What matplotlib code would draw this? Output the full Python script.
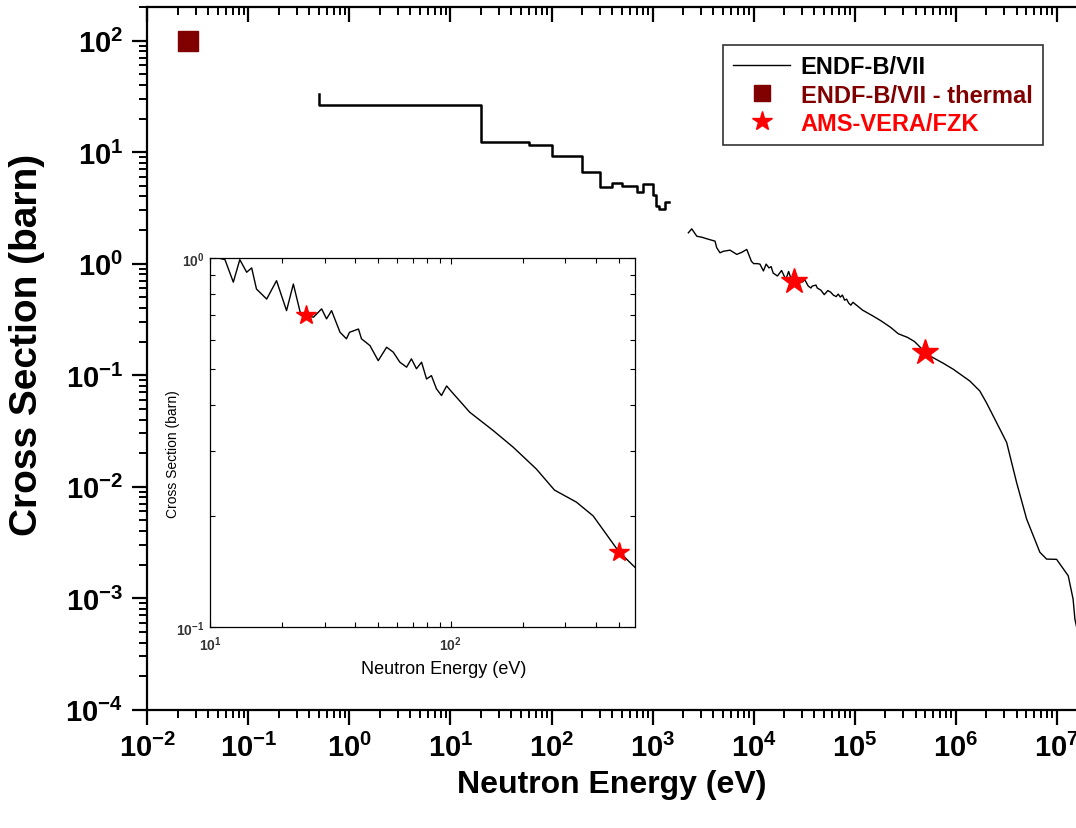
import numpy as np
import matplotlib
matplotlib.use("Agg")
import matplotlib.pyplot as plt
from matplotlib.ticker import LogLocator, FuncFormatter, NullFormatter
from matplotlib.lines import Line2D

plt.rcParams['font.family'] = ['Liberation Sans', 'DejaVu Sans']
plt.rcParams['mathtext.fontset'] = 'custom'
plt.rcParams['mathtext.rm'] = 'Liberation Sans'
plt.rcParams['mathtext.bf'] = 'Liberation Sans:bold'

# ENDF-B/VII group-averaged cross section in the resolved range (eV, barn)
step_E = [0.5, 0.5, 20, 60, 100, 200, 300, 400, 500, 700, 800, 1000, 1070, 1170, 1320, 1440]
step_xs = [33.0, 26.6, 12.2, 11.6, 9.15, 6.64, 4.87, 5.32, 4.97, 4.42, 5.21, 4.16, 3.31, 3.10, 3.57, 3.57]

# ENDF-B/VII pointwise cross section above the resolved range (eV, barn)
cont_E = [2.26e3, 2.44e3, 2.74e3, 3.10e3, 3.44e3, 4.15e3, 4.31e3, 4.65e3, 5.01e3, 5.84e3,
          6.81e3, 7.60e3, 8.55e3, 9.50e3, 1.00e4, 1.08e4, 1.154e4, 1.25e4, 1.33e4, 1.42e4,
          1.49e4, 1.56e4, 1.72e4, 1.89e4, 2.08e4, 2.22e4, 2.37e4, 2.50e4, 2.69e4, 2.91e4,
          3.05e4, 3.20e4, 3.47e4, 3.69e4, 3.80e4, 4.14e4, 4.26e4, 4.62e4, 5.00e4, 5.42e4,
          5.77e4, 6.15e4, 6.56e4, 6.87e4, 7.21e4, 7.57e4, 7.94e4, 8.32e4, 8.73e4, 9.16e4,
          9.62e4, 1.00e5, 1.20e5, 1.50e5, 1.82e5, 2.27e5, 2.70e5, 3.33e5, 3.91e5, 5.00e5,
          5.84e5, 7.50e5, 9.44e5, 1.38e6, 1.73e6, 2.01e6, 2.35e6, 2.74e6, 3.19e6, 4.00e6,
          5.03e6, 6.80e6, 7.93e6, 9.95e6, 1.297e7, 1.45e7, 1.51e7, 2.00e7]
cont_xs = [1.89, 2.05, 1.76, 1.72, 1.67, 1.59, 1.39, 1.25, 1.29, 1.32,
           1.21, 1.26, 1.34, 1.05, 1.00, 1.00, 0.99, 0.86, 0.99, 0.915,
           0.94, 0.824, 0.774, 0.868, 0.72, 0.85, 0.713, 0.70, 0.691, 0.728,
           0.684, 0.72, 0.629, 0.604, 0.629, 0.642, 0.604, 0.579, 0.527, 0.573,
           0.556, 0.522, 0.506, 0.533, 0.501, 0.522, 0.47, 0.48, 0.442, 0.424,
           0.45, 0.437, 0.382, 0.341, 0.307, 0.268, 0.235, 0.218, 0.200, 0.160,
           0.145, 0.128, 0.113, 0.0885, 0.0721, 0.0567, 0.043, 0.0327, 0.0249, 0.0109,
           0.00512, 0.00258, 0.00224, 0.00223, 0.00159, 0.00098, 0.00065, 0.0002]

# thermal value (0.0253 eV)
thermal_E = [0.0253]
thermal_xs = [99.0]

# AMS-VERA/FZK activation results
ams_E = [25e3, 500e3]
ams_xs = [0.70, 0.160]

legend_labels = ['ENDF-B/VII', 'ENDF-B/VII - thermal', 'AMS-VERA/FZK']

DARKRED = '#800000'
RED = '#ff0000'

fig = plt.figure(figsize=(10.76, 8.29), dpi=100)
W, H = 1076, 829
x0, x1, y0, y1 = 147.3, 1076, 8, 710.7
ax = fig.add_axes([x0 / W, (H - y1) / H, (x1 - x0) / W, (y1 - y0) / H])
ax.set_xscale('log')
ax.set_yscale('log')
ax.set_xlim(1e-2, 10 ** 7.19)
ax.set_ylim(1e-4, 200)

ax.plot(step_E, step_xs, color='black', lw=1.8, drawstyle='steps-post', zorder=3)
ax.plot(cont_E, cont_xs, color='black', lw=1.0, zorder=3)
ax.plot(thermal_E, thermal_xs, 's', color=DARKRED, ms=15, zorder=4)
ax.plot(ams_E, ams_xs, '*', color=RED, ms=19, mec=RED, zorder=5)

sup = FuncFormatter(lambda v, _: r'$\mathbf{10^{%d}}$' % int(round(np.log10(v))))
ax.xaxis.set_major_locator(LogLocator(base=10, numticks=20))
ax.xaxis.set_minor_locator(LogLocator(base=10, subs=np.arange(2, 10), numticks=20))
ax.yaxis.set_major_locator(LogLocator(base=10, numticks=20))
ax.yaxis.set_minor_locator(LogLocator(base=10, subs=np.arange(2, 10), numticks=20))
ax.xaxis.set_major_formatter(sup)
ax.yaxis.set_major_formatter(sup)
ax.xaxis.set_minor_formatter(NullFormatter())
ax.yaxis.set_minor_formatter(NullFormatter())
ax.tick_params(which='major', direction='out', length=10.5, width=1.6, labelsize=21, pad=6)
ax.tick_params(which='minor', direction='out', length=6, width=1.4)
ax.tick_params(axis='y', which='major', pad=7)
for s in ('left', 'bottom'):
    ax.spines[s].set_linewidth(1.6)
ax.spines['right'].set_visible(False)
ax.spines['top'].set_visible(False)

# top axis carries inward ticks only
axt = ax.twiny()
axt.set_xscale('log')
axt.set_xlim(ax.get_xlim())
axt.xaxis.set_major_locator(LogLocator(base=10, numticks=20))
axt.xaxis.set_minor_locator(LogLocator(base=10, subs=np.arange(2, 10), numticks=20))
axt.xaxis.set_major_formatter(NullFormatter())
axt.xaxis.set_minor_formatter(NullFormatter())
axt.tick_params(which='major', direction='in', length=10.5, width=1.6)
axt.tick_params(which='minor', direction='in', length=6, width=1.4)
for s in ('left', 'bottom', 'right'):
    axt.spines[s].set_visible(False)
axt.spines['top'].set_linewidth(1.6)

ax.set_xlabel('Neutron Energy (eV)', fontsize=23, fontweight='bold')
ax.set_ylabel('Cross Section (barn)', fontsize=28, fontweight='bold')
ax.xaxis.set_label_coords(0.5, -0.084)
ax.yaxis.set_label_coords(-0.11, 0.52)

handles = [Line2D([], [], color='black', lw=1.0),
           Line2D([], [], ls='none', marker='s', color=DARKRED, ms=11),
           Line2D([], [], ls='none', marker='*', color=RED, ms=15)]
leg = fig.legend(handles, legend_labels, loc='upper right',
                 bbox_to_anchor=(1043 / W, (H - 45.7) / H), borderaxespad=0,
                 prop={'family': 'Liberation Sans', 'weight': 'bold', 'size': 17},
                 frameon=True, fancybox=False, edgecolor='black', handlelength=2.4,
                 labelspacing=0.22, borderpad=0.45, handletextpad=0.45)
leg.get_frame().set_linewidth(1.2)
for t, c in zip(leg.get_texts(), ['black', DARKRED, RED]):
    t.set_color(c)

# inset: 10 keV - 600 keV region, energies shown in keV
ix0, ix1, iy0, iy1 = 210, 635, 259, 628
ins = fig.add_axes([ix0 / W, (H - iy1) / H, (ix1 - ix0) / W, (iy1 - iy0) / H], zorder=6)
ins.set_facecolor('white')
ins.set_xscale('log')
ins.set_yscale('log')
ins.set_xlim(10, 10 ** 2.766)
ins.set_ylim(0.1, 1.0)
ins.plot(np.array(cont_E) / 1e3, cont_xs, color='black', lw=1.0)
ins.plot(np.array(ams_E) / 1e3, ams_xs, '*', color=RED, ms=15, mec=RED)
ins.xaxis.set_major_locator(LogLocator(base=10, numticks=10))
ins.xaxis.set_minor_locator(LogLocator(base=10, subs=np.arange(2, 10), numticks=10))
ins.yaxis.set_major_locator(LogLocator(base=10, numticks=10))
ins.yaxis.set_minor_locator(LogLocator(base=10, subs=np.arange(2, 10), numticks=10))
ins.xaxis.set_major_formatter(sup)
ins.yaxis.set_major_formatter(sup)
ins.xaxis.set_minor_formatter(NullFormatter())
ins.yaxis.set_minor_formatter(NullFormatter())
ins.tick_params(which='both', direction='in', top=True, right=True, width=0.8)
ins.tick_params(which='major', length=4.5, labelsize=10, labelcolor='#333333')
ins.tick_params(axis='x', which='major', pad=5)
ins.tick_params(axis='y', which='major', pad=4)
ins.tick_params(which='minor', length=3.5)
for s in ins.spines.values():
    s.set_linewidth(0.9)
ins.set_xlabel('Neutron Energy (eV)', fontsize=13)
ins.set_ylabel('Cross Section (barn)', fontsize=10)
ins.xaxis.set_label_coords(0.55, -0.09)
ins.yaxis.set_label_coords(-0.07, 0.47)

fig.savefig('out.png', dpi=100, facecolor='white')
